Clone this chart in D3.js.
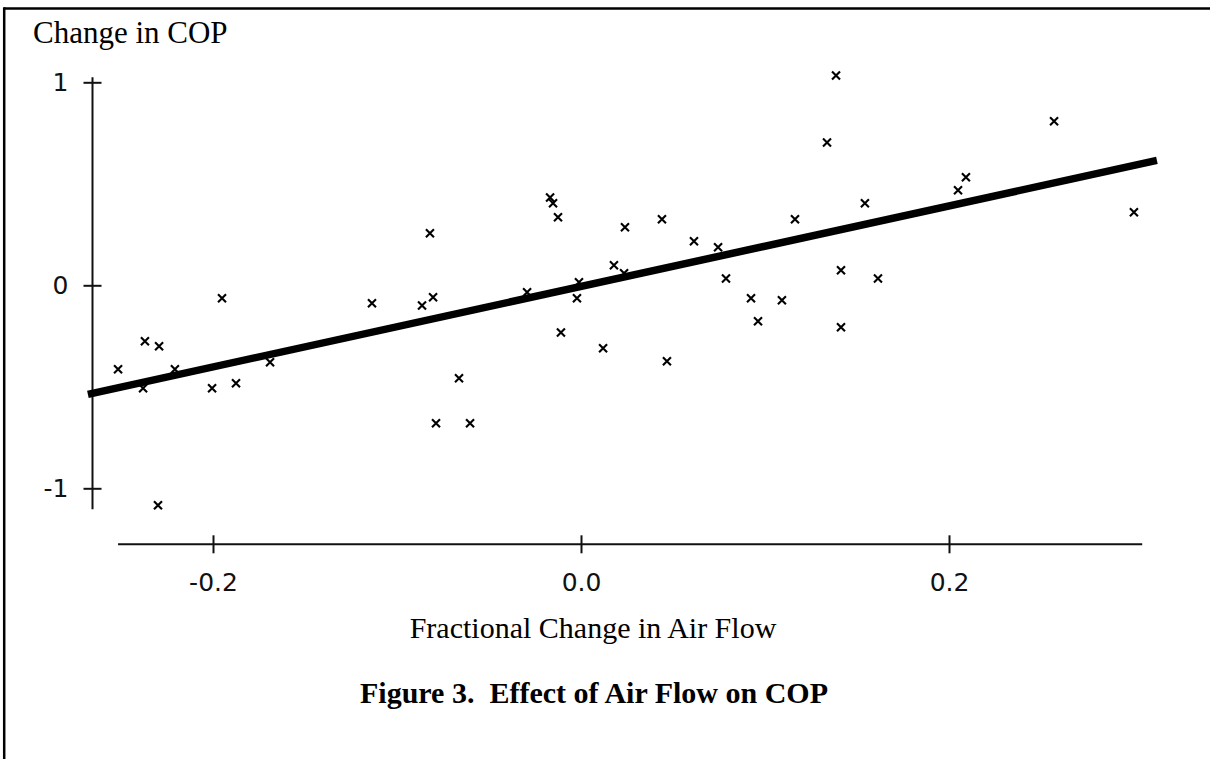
<!DOCTYPE html>
<html>
<head>
<meta charset="utf-8">
<script src="https://cdn.jsdelivr.net/npm/d3@7"></script>
<style>
  html, body { margin: 0; padding: 0; background: #fff; }
  svg { display: block; }
</style>
</head>
<body>
<svg id="chart" width="1210" height="759"></svg>
<script>
// ---- data ----
const airFlow = [-0.2516, -0.237, -0.2293, -0.238, -0.2207, -0.2299, -0.2005, -0.1951, -0.1875, -0.169,
  -0.1136, -0.0821, -0.0864, -0.0804, -0.0663, -0.0788, -0.0603, -0.0293, -0.0168, -0.0152,
  -0.0125, -0.0109, -0.0022, -0.0011, 0.012, 0.0179, 0.0234, 0.0239, 0.044, 0.0467,
  0.0614, 0.0745, 0.0788, 0.0924, 0.0962, 0.1092, 0.1163, 0.1337, 0.1386, 0.1413,
  0.1413, 0.1543, 0.1614, 0.2049, 0.2092, 0.2571, 0.3005];
const copChange = [-0.414, -0.276, -0.300, -0.507, -0.414, -1.084, -0.507, -0.064, -0.483, -0.379,
  -0.089, 0.256, -0.099, -0.059, -0.458, -0.680, -0.680, -0.034, 0.433, 0.404,
  0.335, -0.232, -0.064, 0.015, -0.310, 0.099, 0.059, 0.286, 0.325, -0.374,
  0.217, 0.187, 0.034, -0.064, -0.177, -0.074, 0.325, 0.704, 1.034, 0.074,
  -0.207, 0.404, 0.034, 0.468, 0.532, 0.808, 0.360];
const fitX = [-0.268, 0.313];
const fitY = [-0.537, 0.615];
const xTicks = [-0.2, 0.0, 0.2];
const xTickLabels = ["-0.2", "0.0", "0.2"];
const yTicks = [-1, 0, 1];
const yTickLabels = ["-1", "0", "1"];
const xAxisExtent = [-0.2516, 0.305];
const yAxisExtent = [-1.103, 1.025];
const yTitle = "Change in COP";
const xTitle = "Fractional Change in Air Flow";
const figTitle = "Figure 3.  Effect of Air Flow on COP";

// ---- scales ----
const x = d3.scaleLinear().domain([-0.2, 0.2]).range([213, 949]);
const y = d3.scaleLinear().domain([-1, 1]).range([488.3, 82.3]);

const svg = d3.select("#chart");
const ink = "#000";
const axisInk = "#111";

// frame (top and left edges)
svg.append("line").attr("x1", 4).attr("x2", 1210).attr("y1", 8.5).attr("y2", 8.5)
  .attr("stroke", ink).attr("stroke-width", 2.5);
svg.append("line").attr("x1", 4.2).attr("x2", 4.2).attr("y1", 7.3).attr("y2", 759)
  .attr("stroke", ink).attr("stroke-width", 2.5);

// y axis
const yAxisX = 92.5;
const yAxisG = svg.append("g").attr("transform", `translate(${yAxisX},0)`)
  .call(d3.axisLeft(y).tickValues(yTicks).tickFormat((d, i) => yTickLabels[i])
    .tickSize(9).tickPadding(15));
yAxisG.select(".domain").remove();
yAxisG.append("line").attr("x1", 0).attr("x2", 0)
  .attr("y1", y(yAxisExtent[1])).attr("y2", y(yAxisExtent[0]))
  .attr("stroke", axisInk).attr("stroke-width", 2);
yAxisG.selectAll(".tick line").attr("x1", 9).attr("stroke", axisInk).attr("stroke-width", 2);
yAxisG.selectAll(".tick text").attr("font-family", "'DejaVu Sans', sans-serif")
  .attr("font-size", 25).attr("fill", "#111");

// x axis
const xAxisY = 544.3;
const xAxisG = svg.append("g").attr("transform", `translate(0,${xAxisY})`)
  .call(d3.axisBottom(x).tickValues(xTicks).tickFormat((d, i) => xTickLabels[i])
    .tickSize(9).tickPadding(20));
xAxisG.select(".domain").remove();
xAxisG.append("line").attr("y1", 0).attr("y2", 0)
  .attr("x1", x(xAxisExtent[0])).attr("x2", x(xAxisExtent[1]))
  .attr("stroke", axisInk).attr("stroke-width", 2);
xAxisG.selectAll(".tick line").attr("y1", -9).attr("stroke", axisInk).attr("stroke-width", 2);
xAxisG.selectAll(".tick text").attr("font-family", "'DejaVu Sans', sans-serif")
  .attr("font-size", 25).attr("fill", "#111");

// points (× markers)
const pts = d3.zip(airFlow, copChange);
const s = 4;
svg.append("g").selectAll("path.pt").data(pts).join("path")
  .attr("class", "pt")
  .attr("d", d => {
    const cx = x(d[0]), cy = y(d[1]);
    return `M${cx - s},${cy - s}L${cx + s},${cy + s}M${cx - s},${cy + s}L${cx + s},${cy - s}`;
  })
  .attr("stroke", ink).attr("stroke-width", 2.1).attr("fill", "none");

// regression line (drawn over the points)
const line = d3.line().x(d => x(d[0])).y(d => y(d[1]));
svg.append("path").datum(d3.zip(fitX, fitY)).attr("d", line)
  .attr("fill", "none").attr("stroke", ink).attr("stroke-width", 7.5)
  .attr("stroke-linecap", "butt");

// titles
svg.append("text").attr("x", 33).attr("y", 43)
  .attr("font-family", "'Liberation Serif', 'Times New Roman', serif")
  .attr("font-size", 31).attr("fill", ink).text(yTitle);
svg.append("text").attr("x", 593).attr("y", 638).attr("text-anchor", "middle")
  .attr("font-family", "'Liberation Serif', 'Times New Roman', serif")
  .attr("font-size", 30).attr("fill", ink).text(xTitle);
svg.append("text").attr("x", 594).attr("y", 703).attr("text-anchor", "middle")
  .attr("font-family", "'Liberation Serif', 'Times New Roman', serif")
  .attr("font-size", 30).attr("font-weight", "bold").attr("fill", ink)
  .style("white-space", "pre").text(figTitle);
</script>
</body>
</html>
